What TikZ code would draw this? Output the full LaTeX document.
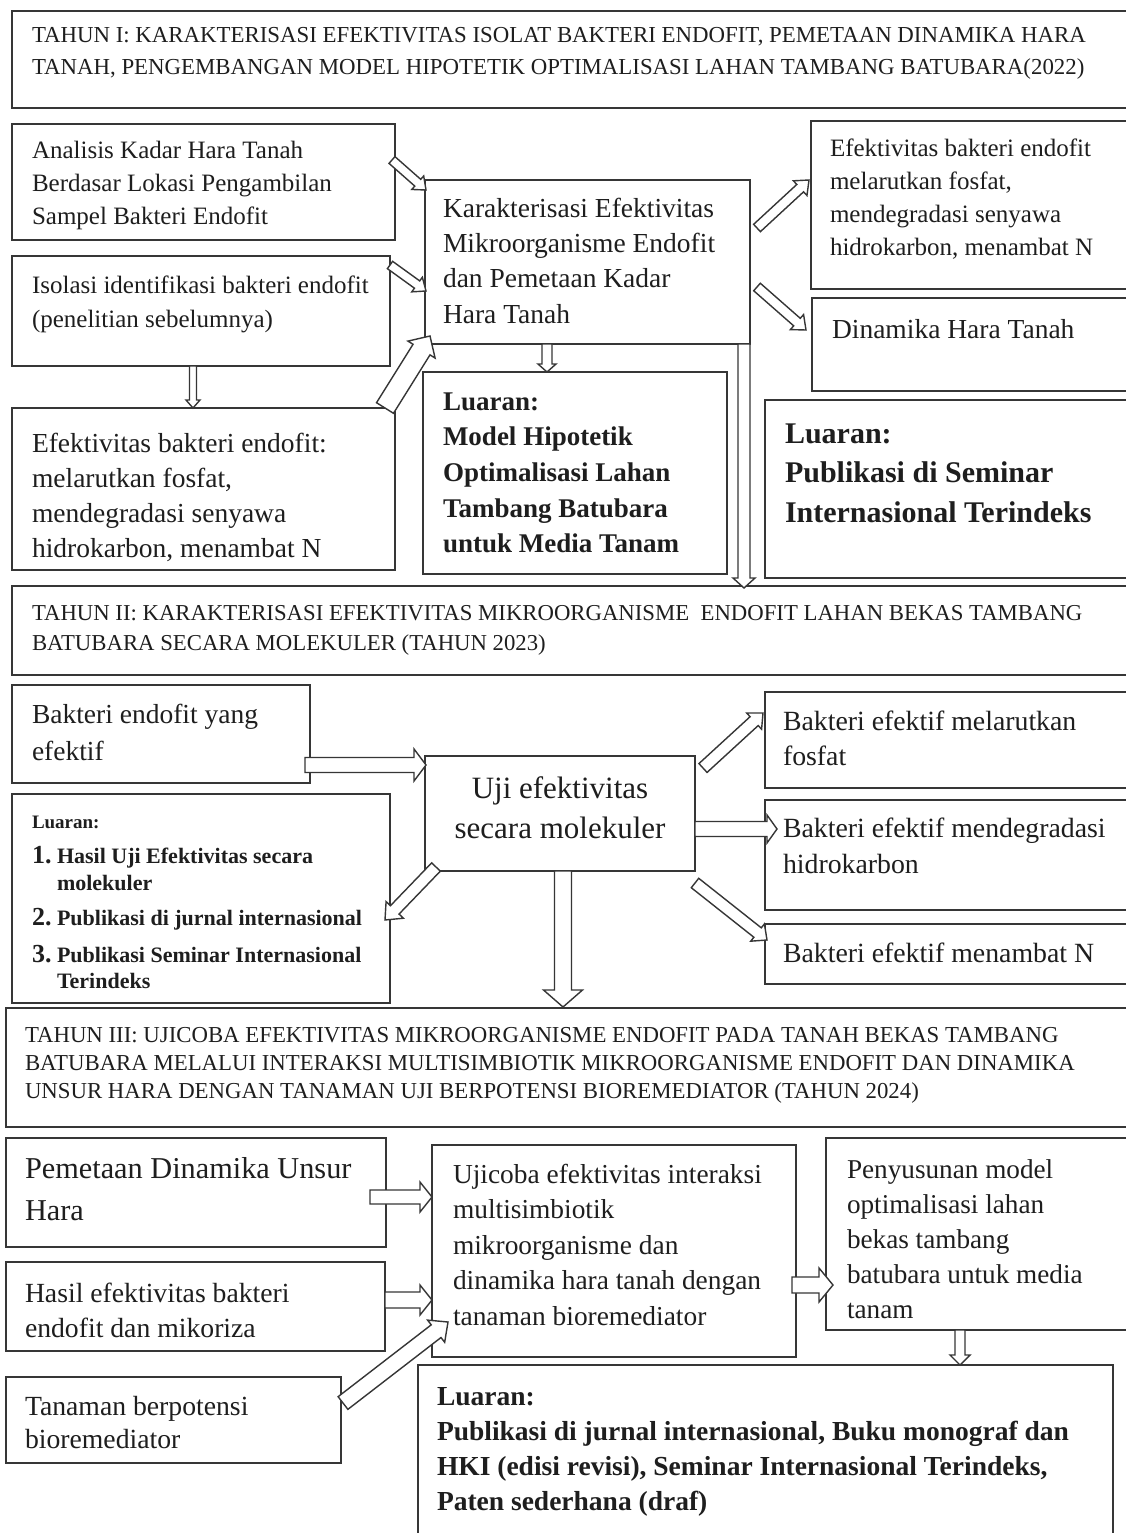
\documentclass[tikz,border=0pt]{standalone}
\usepackage{fontspec}
\setmainfont{Liberation Serif}
\usetikzlibrary{calc}
\newcommand\fs[2]{\fontsize{#1}{#2}\selectfont}
\newcommand\tl[1]{\begin{tabular}[t]{@{}l@{}}#1\end{tabular}}
\newcommand\tcn[1]{\begin{tabular}[t]{@{}c@{}}#1\end{tabular}}
\definecolor{ln}{HTML}{363636}
\definecolor{tx}{HTML}{1E1E1E}
\tikzset{
  arw/.store in=\arw, arhw/.store in=\arhw, arhl/.store in=\arhl,
  arw=5, arhw=10, arhl=12,
  bx/.style={draw=ln, line width=1.9pt, fill=white, rectangle, inner sep=0pt, outer sep=0pt, anchor=north west},
  txt/.style={anchor=base west, inner sep=0pt, outer sep=0pt, text=tx},
  barrow/.style={draw=ln, line width=1.4pt, fill=white, line join=miter,
    to path={let \p1=(\tikztostart), \p2=(\tikztotarget),
      \n1={atan2(\y2-\y1,\x2-\x1)}, \n2={veclen(\x2-\x1,\y2-\y1)-\arhl} in
      ({\x1-\arw*sin(\n1)},{\y1+\arw*cos(\n1)})
      -- ({\x1+\n2*cos(\n1)-\arw*sin(\n1)},{\y1+\n2*sin(\n1)+\arw*cos(\n1)})
      -- ({\x1+\n2*cos(\n1)-\arhw*sin(\n1)},{\y1+\n2*sin(\n1)+\arhw*cos(\n1)})
      -- (\x2,\y2)
      -- ({\x1+\n2*cos(\n1)+\arhw*sin(\n1)},{\y1+\n2*sin(\n1)-\arhw*cos(\n1)})
      -- ({\x1+\n2*cos(\n1)+\arw*sin(\n1)},{\y1+\n2*sin(\n1)-\arw*cos(\n1)})
      -- ({\x1+\arw*sin(\n1)},{\y1-\arw*cos(\n1)})
      -- cycle}},
}
\newcommand\bxat[5]{\node[bx, minimum width={#4-#2}, minimum height={#5-#3}] (#1) at (#2,#3) {};}
\begin{document}
\begin{tikzpicture}[x=1pt,y=-1pt]
\useasboundingbox[fill=white] (0,0) rectangle (1126,1533);
% ---------- boxes ----------
\bxat{hA}{12}{11}{1140}{108}
\bxat{bAna}{12}{124}{395}{240}
\bxat{bIso}{12}{256}{390}{366}
\bxat{bKar}{425}{180}{750}{344}
\bxat{bEfR}{811}{121}{1140}{289}
\bxat{bDin}{812}{298}{1140}{391}
\bxat{bEfL}{12}{408}{395}{570}
\bxat{bLuM}{423}{372}{727}{574}
\bxat{bLuP}{765}{400}{1140}{578}
\bxat{hB}{12}{586}{1140}{675}
\bxat{bBak}{12}{685}{310}{783}
\bxat{bUji}{425}{756}{695}{871}
\bxat{bLu2}{12}{794}{390}{1003}
\bxat{bR1}{765}{692}{1140}{788}
\bxat{bR2}{765}{800}{1140}{910}
\bxat{bR3}{765}{924}{1140}{984}
\bxat{hC}{6}{1008}{1140}{1127}
\bxat{bPem}{6}{1138}{386}{1247}
\bxat{bHas}{6}{1262}{385}{1351}
\bxat{bTan}{6}{1377}{341}{1463}
\bxat{bUjc}{432}{1145}{796}{1357}
\bxat{bPen}{826}{1138}{1140}{1330}
\bxat{bLu3}{418}{1365}{1113}{1548}
% ---------- arrows ----------
\draw[barrow, arw=4.5, arhw=9, arhl=11] ([shift={(-3,36)}]bAna.north east) to ([shift={(1,10)}]bKar.north west);
\draw[barrow, arw=4.5, arhw=9, arhl=11] ([shift={(0,9)}]bIso.north east) to ([shift={(1,111)}]bKar.north west);
\draw[barrow, arw=3.5, arhw=7, arhl=8] ([shift={(181,0)}]bIso.south west) to ([shift={(181,0)}]bEfL.north west);
\draw[barrow, arw=10, arhw=16, arhl=16] ([shift={(-10,0)}]bEfL.north east) to ([shift={(5,-8)}]bKar.south west);
\draw[barrow, arw=5, arhw=9, arhl=8] ([shift={(122,0)}]bKar.south west) to ([shift={(124,0)}]bLuM.north west);
\draw[barrow, arw=5, arhw=10, arhl=12] ([shift={(7,48)}]bKar.north east) to ([shift={(-2,59)}]bEfR.north west);
\draw[barrow, arw=5, arhw=10, arhl=12] ([shift={(7,107)}]bKar.north east) to ([shift={(-6,32)}]bDin.north west);
\draw[barrow, arw=6, arhw=11, arhl=10] ([shift={(-6,0)}]bKar.south east) to ([shift={(732,2)}]hB.north west);
\draw[barrow, arw=7.5, arhw=16, arhl=12] ([shift={(-5,-18)}]bBak.south east) to ([shift={(1,9)}]bUji.north west);
\draw[barrow, arw=6, arhw=12, arhl=14] ([shift={(11,-4)}]bUji.south west) to ([shift={(-5,126)}]bLu2.north east);
\draw[barrow, arw=6, arhw=11, arhl=12] ([shift={(8,12)}]bUji.north east) to ([shift={(-2,21)}]bR1.north west);
\draw[barrow, arw=7.5, arhw=14, arhl=10] ([shift={(0,73)}]bUji.north east) to ([shift={(12,29)}]bR2.north west);
\draw[barrow, arw=6, arhw=11, arhl=12] ([shift={(0,12)}]bUji.south east) to ([shift={(2,16)}]bR3.north west);
\draw[barrow, arw=8.5, arhw=19.5, arhl=17] ([shift={(138,0)}]bUji.south west) to ([shift={(557,-1)}]hC.north west);
\draw[barrow, arw=7, arhw=15, arhl=12] ([shift={(-16,59)}]bPem.north east) to ([shift={(0,52)}]bUjc.north west);
\draw[barrow, arw=8, arhw=15, arhl=12] ([shift={(0,38)}]bHas.north east) to ([shift={(0,155)}]bUjc.north west);
\draw[barrow, arw=8, arhw=14, arhl=15] ([shift={(2,26)}]bTan.north east) to ([shift={(16,177)}]bUjc.north west);
\draw[barrow, arw=8, arhw=17, arhl=14] ([shift={(-4,140)}]bUjc.north east) to ([shift={(7,147)}]bPen.north west);
\draw[barrow, arw=5, arhw=10, arhl=10] ([shift={(134,0)}]bPen.south west) to ([shift={(542,0)}]bLu3.north west);
% ---------- texts ----------
\node[txt, font=\fs{22.85}{32}] (tA) at (32,43) {\tl{TAHUN I: KARAKTERISASI EFEKTIVITAS ISOLAT BAKTERI ENDOFIT, PEMETAAN DINAMIKA HARA\\TANAH, PENGEMBANGAN MODEL HIPOTETIK OPTIMALISASI LAHAN TAMBANG BATUBARA(2022)}};
\node[txt, font=\fs{25}{33}] (tAna) at (32,159) {\tl{Analisis Kadar Hara Tanah\\Berdasar Lokasi Pengambilan\\Sampel Bakteri Endofit}};
\node[txt, font=\fs{25}{34}] (tIso) at (32,293) {\tl{Isolasi identifikasi bakteri endofit\\(penelitian sebelumnya)}};
\node[txt, font=\fs{27.5}{35}] (tKar) at (443,218) {\tl{Karakterisasi Efektivitas\\Mikroorganisme Endofit\\dan Pemetaan Kadar\\Hara Tanah}};
\node[txt, font=\fs{25}{33}] (tEfR) at (830,157) {\tl{Efektivitas bakteri endofit\\melarutkan fosfat,\\mendegradasi senyawa\\hidrokarbon, menambat N}};
\node[txt, font=\fs{27.5}{35}] (tDin) at (832,338) {Dinamika Hara Tanah};
\node[txt, font=\fs{27.5}{35}] (tEfL) at (32,452) {\tl{Efektivitas bakteri endofit:\\melarutkan fosfat,\\mendegradasi senyawa\\hidrokarbon, menambat N}};
\node[txt, font=\bfseries\fs{27}{35.7}] (tLuM) at (443,410) {\tl{Luaran:\\Model Hipotetik\\Optimalisasi Lahan\\Tambang Batubara\\untuk Media Tanam}};
\node[txt, font=\bfseries\fs{30}{39.5}] (tLuP) at (785,443) {\tl{Luaran:\\Publikasi di Seminar\\Internasional Terindeks}};
\node[txt, font=\fs{22.75}{30}] (tB) at (32,620) {\tl{TAHUN II: KARAKTERISASI EFEKTIVITAS MIKROORGANISME\ \ ENDOFIT LAHAN BEKAS TAMBANG\\BATUBARA SECARA MOLEKULER (TAHUN 2023)}};
\node[txt, font=\fs{27.5}{37}] (tBak) at (32,723) {\tl{Bakteri endofit yang\\efektif}};
\node[anchor=base, inner sep=0pt, text=tx, font=\fs{31}{40}] (tUji) at (560,798) {\tcn{Uji efektivitas\\secara molekuler}};
\node[txt, font=\bfseries\fs{19}{24}] (tL2h) at (32,828) {Luaran:};
\node[txt, font=\bfseries\fs{26}{30}] (tL2n1) at (32,863) {1.};
\node[txt, font=\bfseries\fs{22}{27}] (tL2t1) at (57,863) {\tl{Hasil Uji Efektivitas secara\\molekuler}};
\node[txt, font=\bfseries\fs{26}{30}] (tL2n2) at (32,925) {2.};
\node[txt, font=\bfseries\fs{22}{27}] (tL2t2) at (57,925) {Publikasi di jurnal internasional};
\node[txt, font=\bfseries\fs{26}{30}] (tL2n3) at (32,962) {3.};
\node[txt, font=\bfseries\fs{22}{26}] (tL2t3) at (57,962) {\tl{Publikasi Seminar Internasional\\Terindeks}};
\node[txt, font=\fs{27.8}{35}] (tR1) at (783,730) {\tl{Bakteri efektif melarutkan\\fosfat}};
\node[txt, font=\fs{27.8}{36}] (tR2) at (783,837) {\tl{Bakteri efektif mendegradasi\\hidrokarbon}};
\node[txt, font=\fs{27.8}{35}] (tR3) at (783,962) {Bakteri efektif menambat N};
\node[txt, font=\fs{22.8}{28}] (tC) at (25,1042) {\tl{TAHUN III: UJICOBA EFEKTIVITAS MIKROORGANISME ENDOFIT PADA TANAH BEKAS TAMBANG\\BATUBARA MELALUI INTERAKSI MULTISIMBIOTIK MIKROORGANISME ENDOFIT DAN DINAMIKA\\UNSUR HARA DENGAN TANAMAN UJI BERPOTENSI BIOREMEDIATOR (TAHUN 2024)}};
\node[txt, font=\fs{30.3}{42}] (tPem) at (25,1178) {\tl{Pemetaan Dinamika Unsur\\Hara}};
\node[txt, font=\fs{27.7}{35}] (tHas) at (25,1302) {\tl{Hasil efektivitas bakteri\\endofit dan mikoriza}};
\node[txt, font=\fs{27.7}{33}] (tTan) at (25,1415) {\tl{Tanaman berpotensi\\bioremediator}};
\node[txt, font=\fs{27.4}{35.5}] (tUjc) at (453,1183) {\tl{Ujicoba efektivitas interaksi\\multisimbiotik\\mikroorganisme dan\\dinamika hara tanah dengan\\tanaman bioremediator}};
\node[txt, font=\fs{27.2}{35}] (tPen) at (847,1178) {\tl{Penyusunan model\\optimalisasi lahan\\bekas tambang\\batubara untuk media\\tanam}};
\node[txt, font=\bfseries\fs{27.5}{35}] (tLu3) at (437,1405) {\tl{Luaran:\\Publikasi di jurnal internasional, Buku monograf dan\\HKI (edisi revisi), Seminar Internasional Terindeks,\\Paten sederhana (draf)}};
\end{tikzpicture}
\end{document}
